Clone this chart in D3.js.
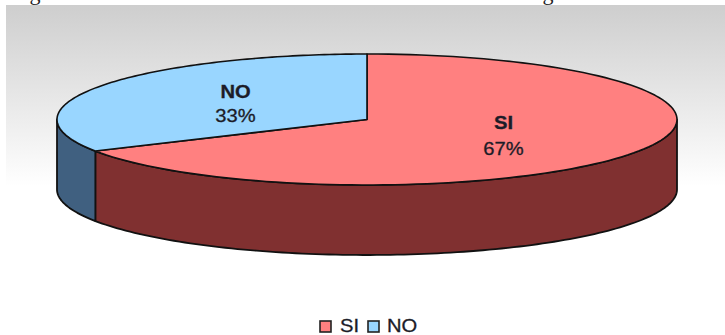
<!DOCTYPE html>
<html>
<head>
<meta charset="utf-8">
<script src="https://cdn.jsdelivr.net/npm/d3@7"></script>
<style>
html,body{margin:0;padding:0;background:#fff;}
svg{display:block;}
text{font-family:"Liberation Sans",Arial,sans-serif;}
</style>
</head>
<body>
<div id="chart"></div>
<script>
const categories = ["SI", "NO"];
const values = [67, 33];
const percentLabels = ["67%", "33%"];
const topColors = ["#ff8080", "#99d6ff"];
const sideColors = ["#803030", "#406080"];
const headingLetters = ["g", "g"];

const width = 725, height = 335;
const svg = d3.select("#chart").append("svg").attr("width", width).attr("height", height);

// Tails of the heading line that runs off the top edge
const headingX = [35, 548];
headingLetters.forEach((g, i) => {
  svg.append("text").attr("x", headingX[i]).attr("y", 0).attr("text-anchor", "middle")
    .style("font-family", '"Liberation Serif",serif').attr("font-size", 22).attr("fill", "#222").text(g);
});

// Panel background fades from grey to white
const grad = svg.append("defs").append("linearGradient")
  .attr("id", "panel").attr("x1", 0).attr("y1", 0).attr("x2", 0).attr("y2", 1);
grad.append("stop").attr("offset", "0%").attr("stop-color", "#cecece");
grad.append("stop").attr("offset", "100%").attr("stop-color", "#ffffff");
svg.append("rect").attr("x", 6).attr("y", 5).attr("width", 719).attr("height", 181)
  .attr("fill", "url(#panel)");

// Elliptical projection of the unit pie
const x = d3.scaleLinear().domain([-1, 1]).range([57, 677]);
const y = d3.scaleLinear().domain([-1, 1]).range([54, 185]);
const depth = 70;

const arcs = d3.pie().sort(null)(values);
const pt = (a, dy = 0) => [x(Math.sin(a)), y(-Math.cos(a)) + dy];
const sample = (a0, a1, dy = 0) => d3.range(0, 121).map(i => pt(a0 + (a1 - a0) * i / 120, dy));
const line = d3.line();

// Outer wall: only the front half of the rim (90deg to 270deg) is visible
const front0 = Math.PI / 2, front1 = 3 * Math.PI / 2;
arcs.forEach((d, i) => {
  const a0 = Math.max(d.startAngle, front0), a1 = Math.min(d.endAngle, front1);
  if (a1 <= a0) return;
  const upper = sample(a0, a1);
  const lower = sample(a1, a0, depth);
  svg.append("path").attr("d", line(upper.concat(lower)) + "Z")
    .attr("fill", sideColors[i]).attr("stroke", "#111").attr("stroke-width", 1.8)
    .attr("stroke-linejoin", "round");
});

// Top face
arcs.forEach((d, i) => {
  const c = [x(0), y(0)];
  svg.append("path").attr("d", line([c].concat(sample(d.startAngle, d.endAngle))) + "Z")
    .attr("fill", topColors[i]).attr("stroke", "#111").attr("stroke-width", 1.6)
    .attr("stroke-linejoin", "round");
});

// Text is set slightly wide, with a hairline stroke for weight
function label(px, py, str, size, bold, anchor) {
  svg.append("text")
    .attr("transform", `translate(${px},${py}) scale(1.12,1)`)
    .attr("text-anchor", anchor)
    .attr("font-size", size)
    .attr("font-weight", bold ? "bold" : "normal")
    .attr("fill", "#1c1c28").attr("stroke", "#1c1c28").attr("stroke-width", 0.3)
    .text(str);
}

// Slice labels
const labelPos = [[503.5, 129, 155], [235.5, 98, 122]];
arcs.forEach((d, i) => {
  const [lx, y1, y2] = labelPos[i];
  label(lx, y1, categories[i], 18, true, "middle");
  label(lx, y2, percentLabels[i], 18, false, "middle");
});

// Legend
const legendX = [319, 367], legendTextX = [340, 387];
categories.forEach((c, i) => {
  svg.append("rect").attr("x", legendX[i] + 1).attr("y", 321).attr("width", 11).attr("height", 11)
    .attr("fill", topColors[i]).attr("stroke", "#222").attr("stroke-width", 1.6);
  label(legendTextX[i], 332, c, 18, false, "start");
});
</script>
</body>
</html>
